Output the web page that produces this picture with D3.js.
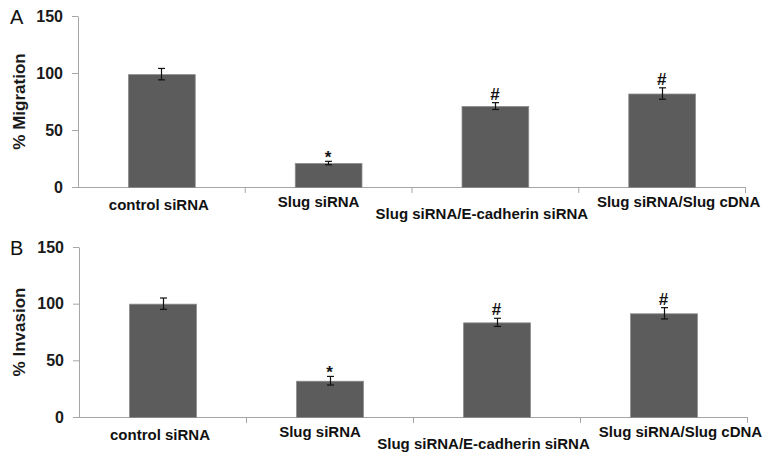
<!DOCTYPE html>
<meta charset="utf-8">
<style>
body { margin: 0; background: #fff; }
text { font-family: "Liberation Sans", Arial, sans-serif; }
</style>
<body>
    <svg width="764" height="455"></svg>
</body>
<script src="https://d3js.org/d3.v7.min.js"></script>
<script>
const categories = ['control siRNA', 'Slug siRNA', 'Slug siRNA/E-cadherin siRNA', 'Slug siRNA/Slug cDNA'];
const migration = [99, 21, 71, 82];
const migrationErr = [5, 1.5, 3, 5];
const invasion = [100, 32, 83.5, 91.5];
const invasionErr = [5, 3.8, 3.6, 5];
const marks = ['', '*', '#', '#'];
const yTicks = [0, 50, 100, 150];

// label nudges (the original labels are not centred under bars)
const labelDx = [-2.5, -9.5, -13, 17];
const labelDy = [22.5, 19.5, 32, 19.5];

const svg = d3.select('svg');

drawPanel({letter: 'A', title: '% Migration', values: migration, errs: migrationErr,
           x0: 78, x1: 745, yTop: 16, yBottom: 187});
drawPanel({letter: 'B', title: '% Invasion', values: invasion, errs: invasionErr,
           x0: 79, x1: 747, yTop: 247, yBottom: 417});

function drawPanel(p){
    const data = categories.map((c, i) => ({cat: c, v: p.values[i], e: p.errs[i], mark: marks[i], i: i}));

    const x = d3.scaleBand().domain(categories).range([p.x0, p.x1])
        .paddingInner(0.6).paddingOuter(0.3);
    const y = d3.scaleLinear().domain([0, 150]).range([p.yBottom, p.yTop]);

    const g = svg.append('g');

    //y axis
    const yAxis = g.append('g')
        .attr('transform', `translate(${p.x0},0)`)
        .call(d3.axisLeft(y).tickValues(yTicks).tickSize(6).tickSizeOuter(0).tickPadding(9));
    yAxis.select('.domain').attr('stroke', '#a6a6a6');
    yAxis.selectAll('.tick line').attr('stroke', '#a6a6a6');
    yAxis.selectAll('.tick text')
        .attr('font-family', '"Liberation Sans", Arial, sans-serif')
        .attr('font-size', 16).attr('font-weight', 'bold').attr('fill', '#1a1a1a');

    //x axis with ticks on category boundaries
    g.append('line')
        .attr('x1', p.x0).attr('x2', p.x1)
        .attr('y1', y(0) + 0.5).attr('y2', y(0) + 0.5)
        .attr('stroke', '#a6a6a6');
    const step = x.step();
    g.selectAll('.xtick')
        .data(d3.range(1, categories.length + 1))
        .enter().append('line')
        .attr('x1', d => p.x0 + d * step + 0.5).attr('x2', d => p.x0 + d * step + 0.5)
        .attr('y1', y(0)).attr('y2', y(0) + 6)
        .attr('stroke', '#a6a6a6');

    //bars
    g.selectAll('.bar')
        .data(data)
        .enter().append('rect')
        .attr('x', d => x(d.cat) + 0.5)
        .attr('y', d => y(d.v) + 0.5)
        .attr('width', x.bandwidth())
        .attr('height', d => y(0) - y(d.v))
        .attr('fill', '#5c5c5c')
        .attr('stroke', '#8a8a8a')
        .attr('stroke-width', 0.8);

    //error bars
    const eb = g.selectAll('.err')
        .data(data)
        .enter().append('g')
        .attr('stroke', '#111')
        .attr('stroke-width', 1.2);
    const cx = d => Math.round(x(d.cat) + x.bandwidth() / 2) + 0.5;
    eb.append('line')
        .attr('x1', cx).attr('x2', cx)
        .attr('y1', d => y(d.v + d.e)).attr('y2', d => y(d.v - d.e));
    eb.append('line')
        .attr('x1', d => cx(d) - 3.5).attr('x2', d => cx(d) + 3.5)
        .attr('y1', d => y(d.v + d.e)).attr('y2', d => y(d.v + d.e));
    eb.append('line')
        .attr('x1', d => cx(d) - 3.5).attr('x2', d => cx(d) + 3.5)
        .attr('y1', d => y(d.v - d.e)).attr('y2', d => y(d.v - d.e));

    //significance marks
    g.selectAll('.mark')
        .data(data.filter(d => d.mark))
        .enter().append('text')
        .attr('x', d => x(d.cat) + x.bandwidth() / 2)
        .attr('y', d => y(d.v + d.e) + (d.mark === '*' ? 2 : -3))
        .attr('text-anchor', 'middle')
        .attr('font-size', 17).attr('font-weight', 'bold').attr('fill', '#111')
        .text(d => d.mark);

    //category labels
    g.selectAll('.xlabel')
        .data(data)
        .enter().append('text')
        .attr('x', d => x(d.cat) + x.bandwidth() / 2 + labelDx[d.i])
        .attr('y', d => y(0) + labelDy[d.i])
        .attr('text-anchor', 'middle')
        .attr('font-size', 15).attr('font-weight', 'bold').attr('fill', '#111')
        .text(d => d.cat);

    //axis title
    g.append('text')
        .attr('transform', `translate(25,${(p.yTop + p.yBottom) / 2}) rotate(-90)`)
        .attr('text-anchor', 'middle')
        .attr('font-size', 17).attr('font-weight', 'bold').attr('fill', '#1a1a1a')
        .text(p.title);

    //panel letter
    g.append('text')
        .attr('x', 10).attr('y', p.yTop + 8)
        .attr('font-size', 20).attr('fill', '#111')
        .text(p.letter);
}
</script>
